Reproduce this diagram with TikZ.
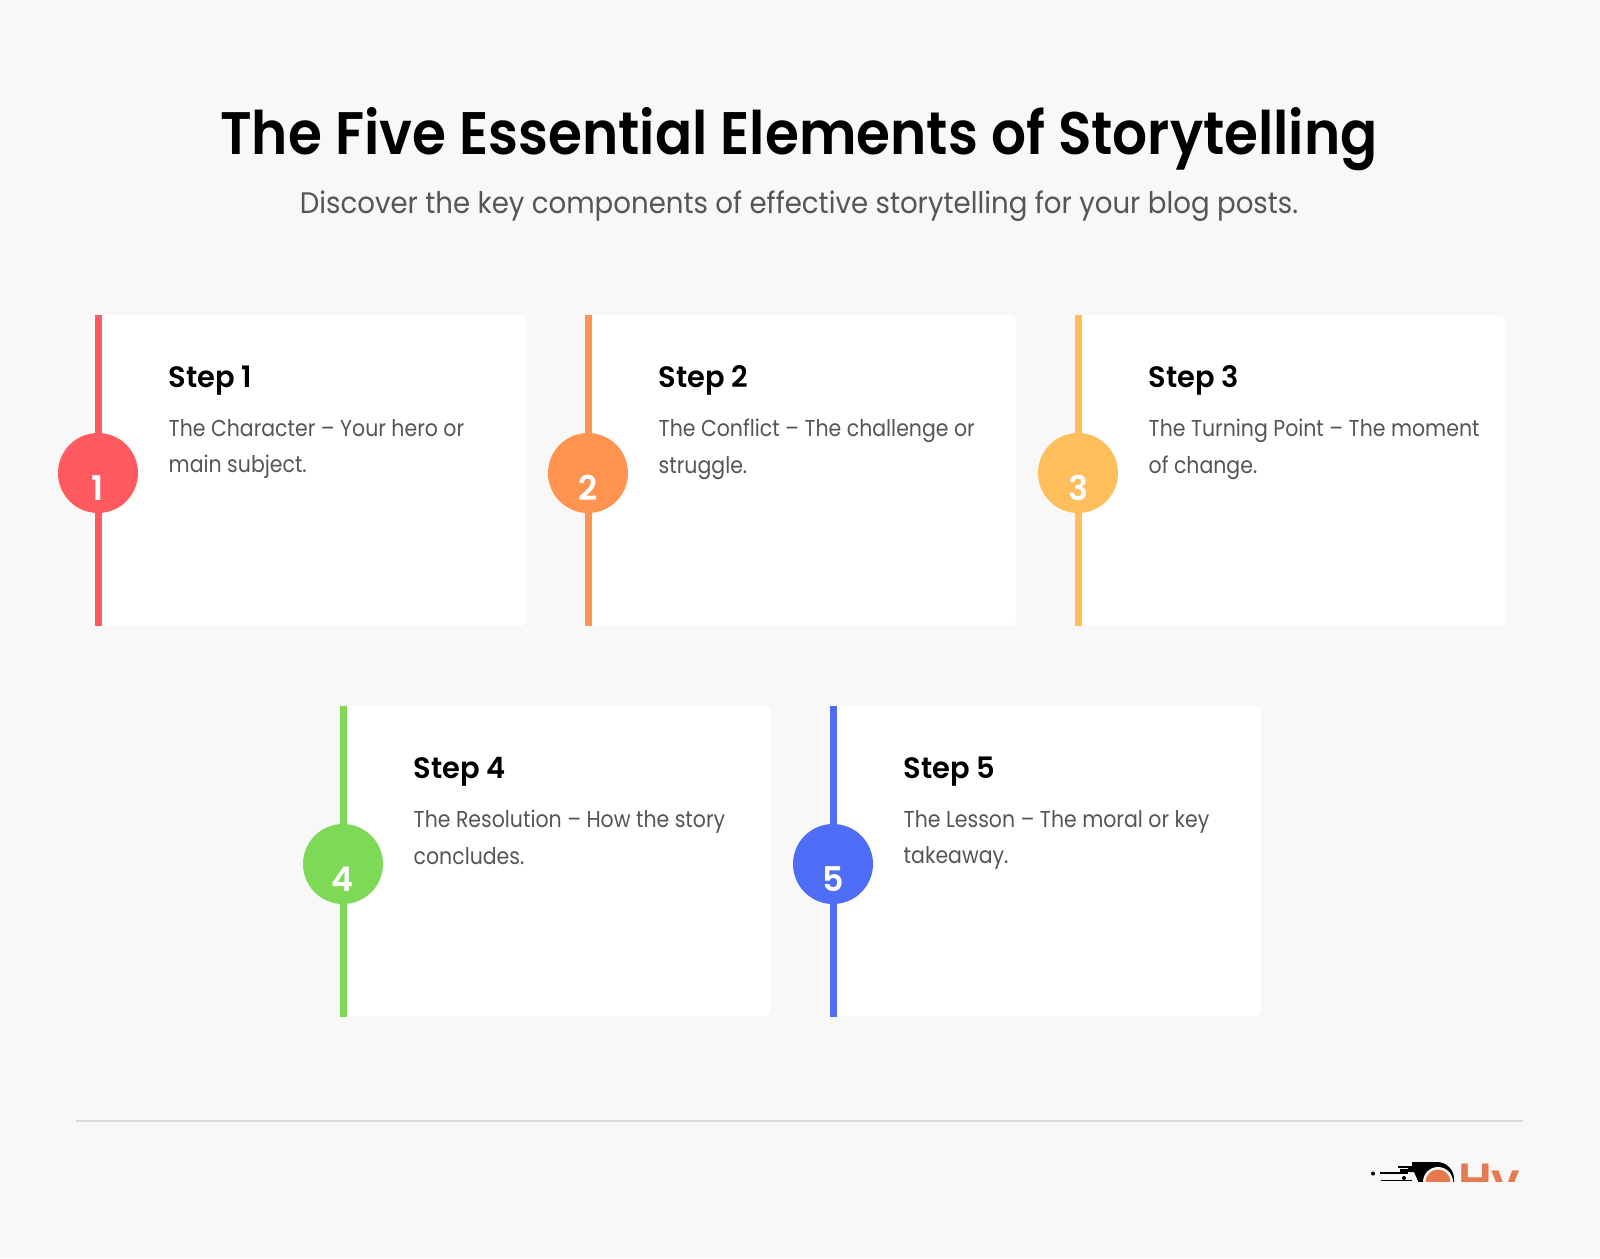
\documentclass[tikz,border=0pt]{standalone}
\usepackage{fontspec}
\setmainfont{Poppins}
\newfontfamily\titlefont[FakeStretch=0.915]{Poppins SemiBold}
\newfontfamily\headfont[FakeStretch=0.98]{Poppins SemiBold}
\newfontfamily\subfont[FakeStretch=0.93]{Poppins}
\newfontfamily\bodyfont[FakeStretch=0.89]{Poppins}
\usetikzlibrary{positioning, calc}

\definecolor{pageback}{HTML}{F8F8F8}
\definecolor{ruleline}{HTML}{D9DADF}
\definecolor{bodygray}{HTML}{555555}
\definecolor{stepred}{HTML}{FF5A5F}
\definecolor{steporange}{HTML}{FF9350}
\definecolor{stepyellow}{HTML}{FFBE5C}
\definecolor{stepgreen}{HTML}{7ED957}
\definecolor{stepblue}{HTML}{4F6EF7}
\definecolor{logoorange}{HTML}{E57A4E}

\tikzset{
	x=1pt, y=-1pt,
	card/.style={fill=white, rounded corners=6pt},
	stepbar/.style={minimum width=7pt, minimum height=311pt, inner sep=0pt, anchor=north},
	stepdot/.style={circle, minimum size=80pt, inner sep=0pt},
	stepnum/.style={text=white, font=\headfont\fontsize{34}{34}\selectfont, anchor=base, inner sep=0pt},
	stephead/.style={font=\headfont\fontsize{29.5}{29.5}\selectfont, anchor=base west, inner sep=0pt},
	stepbody/.style={text=bodygray, font=\bodyfont\fontsize{23}{36.7}\selectfont, anchor=north west, inner sep=0pt, align=left, execute at begin node=\rule{0pt}{20pt}}
}

\begin{document}
\begin{tikzpicture}
	
	%Page background
	\fill[pageback] (0,0) rectangle (1600,1258);
	\useasboundingbox (0,0) rectangle (1600,1258);
	
	%Title and subtitle
	\node (mainTitle) at (799,139) [font=\titlefont\fontsize{60}{60}\selectfont, inner sep=0pt]{The Five Essential Elements of Storytelling};
	\node (subTitle) at (799,206) [text=bodygray, font=\subfont\fontsize{29.7}{29.7}\selectfont, inner sep=0pt]{Discover the key components of effective storytelling for your blog posts.};
	
	%First card
	\fill[card] (98,315) rectangle (526,626);
	\node (barOne) at (98,315) [stepbar, fill=stepred]{};
	\node (dotOne) at (98,473) [stepdot, fill=stepred]{};
	\node (numOne) at (98,500) [stepnum]{1};
	\node (headOne) at (168.5,387) [stephead]{Step 1};
	\node (bodyOne) at (168.5,419) [stepbody]{The Character – Your hero or\\main subject.};
	
	%Second card
	\fill[card] (588,315) rectangle (1016,626);
	\node (barTwo) at (588,315) [stepbar, fill=steporange]{};
	\node (dotTwo) at (588,473) [stepdot, fill=steporange]{};
	\node (numTwo) at (588,500) [stepnum]{2};
	\node (headTwo) at (658.5,387) [stephead]{Step 2};
	\node (bodyTwo) at (658.5,419) [stepbody]{The Conflict – The challenge or\\struggle.};
	
	%Third card
	\fill[card] (1078,315) rectangle (1506,626);
	\node (barThree) at (1078,315) [stepbar, fill=stepyellow]{};
	\node (dotThree) at (1078,473) [stepdot, fill=stepyellow]{};
	\node (numThree) at (1078,500) [stepnum]{3};
	\node (headThree) at (1148.5,387) [stephead]{Step 3};
	\node (bodyThree) at (1148.5,419) [stepbody]{The Turning Point – The moment\\of change.};
	
	%Fourth card
	\fill[card] (343,706) rectangle (771,1016);
	\node (barFour) at (343,706) [stepbar, fill=stepgreen]{};
	\node (dotFour) at (343,864) [stepdot, fill=stepgreen]{};
	\node (numFour) at (343,891) [stepnum]{4};
	\node (headFour) at (413.5,778) [stephead]{Step 4};
	\node (bodyFour) at (413.5,810) [stepbody]{The Resolution – How the story\\concludes.};
	
	%Fifth card
	\fill[card] (833,706) rectangle (1261,1016);
	\node (barFive) at (833,706) [stepbar, fill=stepblue]{};
	\node (dotFive) at (833,864) [stepdot, fill=stepblue]{};
	\node (numFive) at (833,891) [stepnum]{5};
	\node (headFive) at (903.5,778) [stephead]{Step 5};
	\node (bodyFive) at (903.5,810) [stepbody]{The Lesson – The moral or key\\takeaway.};
	
	%Line above the logo
	\draw[ruleline, line width=1.5pt] (76,1121) -- (1523,1121);
	
	%Logo, cut off at the bottom and on the right
	\begin{scope}
		\clip (1360,1150) rectangle (1523,1181);
		\fill[black] (1412,1162) -- (1437,1162) arc[start angle=-90, end angle=0, radius=17] -- (1454,1190) -- (1422,1190) -- (1414,1172) -- (1400,1172) -- (1400,1169) -- (1408,1169) -- (1408,1166) -- (1412,1166) -- cycle;
		\fill[pageback] (1438,1182) circle (15);
		\fill[logoorange] (1438,1182) circle (12.5);
		\fill[black] (1373,1173.5) circle (2);
		\draw[black, line width=1.5pt] (1380,1173) -- (1408,1173);
		\draw[black, line width=2pt] (1398,1167) -- (1412,1167);
		\draw[black, line width=1.5pt] (1381,1180.5) -- (1412,1180.5);
		\fill[black] (1404,1178) circle (2);
		\node (logoWord) at (1458,1197) [anchor=base west, inner sep=0pt, text=logoorange, font=\headfont\fontsize{48}{48}\selectfont]{Hy};
	\end{scope}
	
\end{tikzpicture}
\end{document}
